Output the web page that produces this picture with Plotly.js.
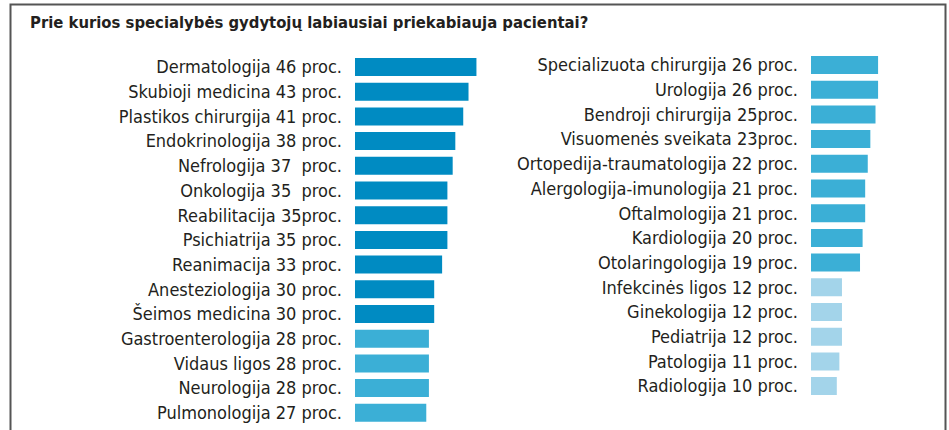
<!DOCTYPE html>
<html>
<head>
<meta charset="utf-8">
<script src="https://cdn.plot.ly/plotly-3.0.1.min.js"></script>
<style>html,body{margin:0;padding:0;background:#fff;}#chart{width:949px;height:430px;}</style>
</head>
<body>
<div id="chart"></div>
<script>
// Left column
const leftCategories = ["Dermatologija","Skubioji medicina","Plastikos chirurgija","Endokrinologija","Nefrologija","Onkologija","Reabilitacija","Psichiatrija","Reanimacija","Anesteziologija","Šeimos medicina","Gastroenterologija","Vidaus ligos","Neurologija","Pulmonologija"];
const leftValues = [46,43,41,38,37,35,35,35,33,30,30,28,28,28,27];
const leftLabels = ["Dermatologija 46 proc.","Skubioji medicina 43 proc.","Plastikos chirurgija 41 proc.","Endokrinologija 38 proc.","Nefrologija 37  proc.","Onkologija 35  proc.","Reabilitacija 35proc.","Psichiatrija 35 proc.","Reanimacija 33 proc.","Anesteziologija 30 proc.","Šeimos medicina 30 proc.","Gastroenterologija 28 proc.","Vidaus ligos 28 proc.","Neurologija 28 proc.","Pulmonologija 27 proc."];
// Right column
const rightCategories = ["Specializuota chirurgija","Urologija","Bendroji chirurgija","Visuomenės sveikata","Ortopedija-traumatologija","Alergologija-imunologija","Oftalmologija","Kardiologija","Otolaringologija","Infekcinės ligos","Ginekologija","Pediatrija","Patologija","Radiologija"];
const rightValues = [26,26,25,23,22,21,21,20,19,12,12,12,11,10];
const rightLabels = ["Specializuota chirurgija 26 proc.","Urologija 26 proc.","Bendroji chirurgija 25proc.","Visuomenės sveikata 23proc.","Ortopedija-traumatologija 22 proc.","Alergologija-imunologija 21 proc.","Oftalmologija 21 proc.","Kardiologija 20 proc.","Otolaringologija 19 proc.","Infekcinės ligos 12 proc.","Ginekologija 12 proc.","Pediatrija 12 proc.","Patologija 11 proc.","Radiologija 10 proc."];

const title = "Prie kurios specialybės gydytojų labiausiai priekabiauja pacientai?";

const DARK = "#008bc2", MID = "#3bafd6", LIGHT = "#a3d4ea";
function colorFor(v){ return v >= 30 ? DARK : (v >= 15 ? MID : LIGHT); }

const FONT = "'Liberation Sans Narrow', 'DejaVu Sans Condensed', 'Arial Narrow', sans-serif";
const W = 949, H = 430;
const PXU = 2.64; // pixels per unit (left)
const PXU2 = 2.58; // pixels per unit (right)

const traces = [
  {type:'bar', orientation:'h', x:leftValues, y:leftCategories, xaxis:'x', yaxis:'y',
   marker:{color:leftValues.map(colorFor)}, hoverinfo:'skip', width:0.73},
  {type:'bar', orientation:'h', x:rightValues, y:rightCategories, xaxis:'x2', yaxis:'y2',
   marker:{color:rightValues.map(colorFor)}, hoverinfo:'skip', width:0.73}
];

const pitch = 24.7;
function yDom(firstCenter, n){
  const top = firstCenter - pitch/2, bot = firstCenter + pitch*(n-1) + pitch/2;
  return [(H-bot)/H, (H-top)/H];
}

const layout = {
  width: W, height: H,
  margin:{l:0,r:0,t:0,b:0},
  paper_bgcolor:'#fff', plot_bgcolor:'rgba(0,0,0,0)',
  showlegend:false,
  font:{family:FONT, color:'#231f20', size:18},
  title:{text:'<b>'+title+'</b>', x:30/W, xanchor:'left', xref:'paper', y:1-22/H, yanchor:'middle', yref:'paper',
         font:{family:FONT, size:16.5, color:'#231f20'}},
  xaxis:{domain:[355/W, 505/W], range:[0,150/PXU], visible:false, fixedrange:true},
  xaxis2:{domain:[811/W, 940/W], range:[0,129/PXU2], visible:false, fixedrange:true},
  yaxis:{domain:yDom(67, leftCategories.length), range:[leftCategories.length-0.5,-0.5], type:'category',
         tickvals:leftCategories, ticktext:leftLabels, ticks:'', showgrid:false, zeroline:false, showline:false,
         ticklabelstandoff:12, tickfont:{family:FONT, size:18, color:'#231f20'}, anchor:'x', fixedrange:true},
  yaxis2:{domain:yDom(65, rightCategories.length), range:[rightCategories.length-0.5,-0.5], type:'category',
         tickvals:rightCategories, ticktext:rightLabels, ticks:'', showgrid:false, zeroline:false, showline:false,
         ticklabelstandoff:12, tickfont:{family:FONT, size:18, color:'#231f20'}, anchor:'x2', fixedrange:true},
  shapes:[
    {type:'path', xref:'paper', yref:'paper', path:'M '+(10.5/W)+' 0 L '+(10.5/W)+' '+(1-4.5/H)+' L '+(945.5/W)+' '+(1-4.5/H)+' L '+(945.5/W)+' 0',
     line:{color:'#555', width:2}}
  ]
};

Plotly.newPlot('chart', traces, layout, {staticPlot:true, displayModeBar:false});
</script>
</body>
</html>
